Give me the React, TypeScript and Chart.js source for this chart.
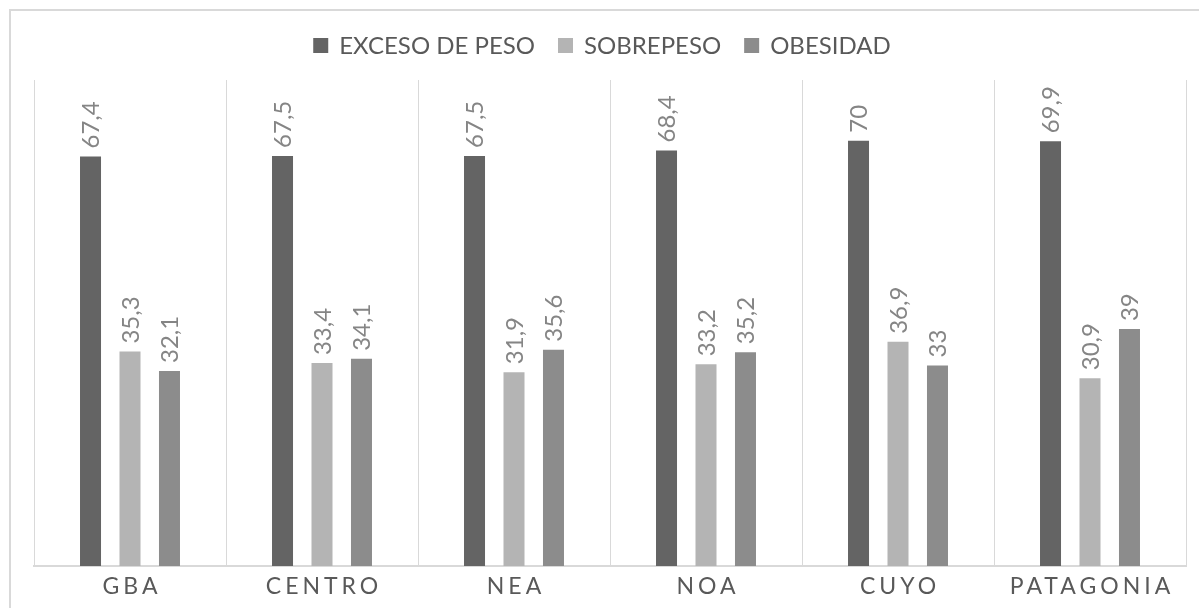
import React, { useEffect, useRef } from "react";
import { Chart, registerables } from "chart.js";

Chart.register(...registerables);

const categories = ["GBA", "CENTRO", "NEA", "NOA", "CUYO", "PATAGONIA"];
const seriesNames = ["EXCESO DE PESO", "SOBREPESO", "OBESIDAD"];
const excesoDePeso = [67.4, 67.5, 67.5, 68.4, 70, 69.9];
const sobrepeso = [35.3, 33.4, 31.9, 33.2, 36.9, 30.9];
const obesidad = [32.1, 34.1, 35.6, 35.2, 33, 39];
const seriesColors = ["#646464", "#b4b4b4", "#8c8c8c"];
const yMax = 80;

const FONT = "Lato, 'Open Sans', sans-serif";
const TEXT_COLOR = "#595959";
const LABEL_COLOR = "#858585";
const GRID_COLOR = "#d9d9d9";

const fmt = (v: number) => String(v).replace(".", ",");

const customPlugin = {
  id: "custom",
  afterDraw(chart: any) {
    const ctx = chart.ctx as CanvasRenderingContext2D;
    const area = chart.chartArea;
    ctx.save();
    // outer border
    ctx.strokeStyle = GRID_COLOR;
    ctx.lineWidth = 2;
    ctx.beginPath();
    ctx.moveTo(10, 608);
    ctx.lineTo(10, 10);
    ctx.lineTo(1199, 10);
    ctx.stroke();

    // data labels
    ctx.font = `24px ${FONT}`;
    ctx.fillStyle = LABEL_COLOR;
    chart.data.datasets.forEach((ds: any, di: number) => {
      const meta = chart.getDatasetMeta(di);
      meta.data.forEach((bar: any, i: number) => {
        const v = ds.data[i];
        ctx.save();
        ctx.translate(bar.x, bar.y - 8);
        ctx.rotate(-Math.PI / 2);
        ctx.textAlign = "left";
        ctx.textBaseline = "middle";
        ctx.fillText(fmt(v), 0, 1);
        ctx.restore();
      });
    });

    // x labels with letter spacing
    const xs = chart.scales.x;
    ctx.font = `23px ${FONT}`;
    ctx.fillStyle = TEXT_COLOR;
    (ctx as any).letterSpacing = "4px";
    ctx.textAlign = "center";
    ctx.textBaseline = "alphabetic";
    categories.forEach((c, i) => {
      const x = xs.getPixelForValue(i);
      ctx.fillText(c, x + 2, area.bottom + 28);
    });
    (ctx as any).letterSpacing = "0px";

    // legend
    ctx.font = `24px ${FONT}`;
    ctx.textAlign = "left";
    const box = 15;
    const gapBoxText = 11;
    const gapItems = 23;
    const widths = seriesNames.map((n) => ctx.measureText(n).width);
    const total =
      widths.reduce((a, w) => a + box + gapBoxText + w, 0) + gapItems * (seriesNames.length - 1);
    let x = 602 - total / 2;
    const cy = 45.5;
    seriesNames.forEach((n, i) => {
      ctx.fillStyle = seriesColors[i];
      ctx.fillRect(x, cy - box / 2, box, box);
      x += box + gapBoxText;
      ctx.fillStyle = TEXT_COLOR;
      ctx.textBaseline = "middle";
      ctx.fillText(n, x, cy + 1);
      x += widths[i] + gapItems;
    });
    ctx.restore();
  },
};

export default function App() {
  const ref = useRef<HTMLCanvasElement>(null);
  useEffect(() => {
    const chart = new Chart(ref.current!, {
      type: "bar",
      data: {
        labels: categories,
        datasets: [
          { label: seriesNames[0], data: excesoDePeso, backgroundColor: seriesColors[0] },
          { label: seriesNames[1], data: sobrepeso, backgroundColor: seriesColors[1] },
          { label: seriesNames[2], data: obesidad, backgroundColor: seriesColors[2] },
        ],
      },
      options: {
        animation: false,
        responsive: false,
        maintainAspectRatio: false,
        events: [],
        layout: { padding: { left: 34, right: 13, top: 80, bottom: 42 } },
        datasets: { bar: { categoryPercentage: 0.617, barPercentage: 0.532 } },
        plugins: { legend: { display: false }, tooltip: { enabled: false } },
        scales: {
          x: {
            grid: { offset: true, color: GRID_COLOR, lineWidth: 1, drawTicks: false, tickLength: 0 },
            border: { display: true, color: GRID_COLOR, width: 2 },
            ticks: { display: false },
          },
          y: {
            display: false,
            min: 0,
            max: yMax,
          },
        },
      },
      plugins: [customPlugin],
    });
    return () => chart.destroy();
  }, []);
  return (
    <div style={{ position: "fixed", left: 0, top: 0, width: 1199, height: 608, background: "#fff" }}>
      <canvas ref={ref} width={1199} height={608} style={{ width: 1199, height: 608 }} />
    </div>
  );
}
